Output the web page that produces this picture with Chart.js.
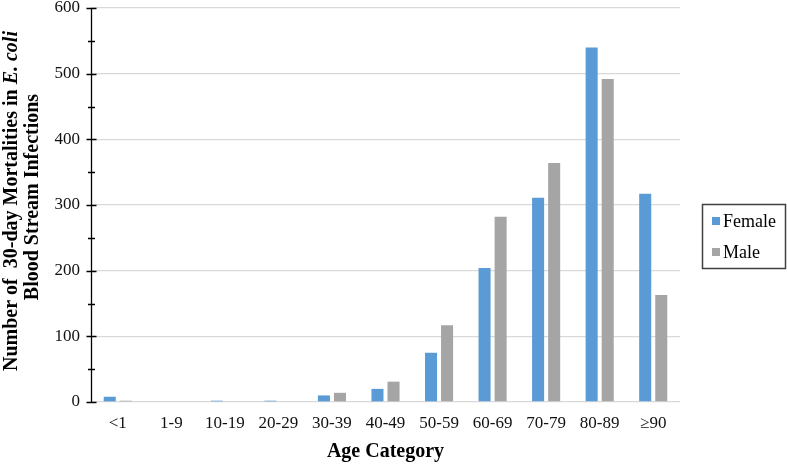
<!DOCTYPE html>
<html>
<head>
<meta charset="utf-8">
<script src="https://cdn.jsdelivr.net/npm/chart.js@4/dist/chart.umd.min.js"></script>
<style>
  html, body { margin: 0; padding: 0; background: #ffffff; }
  #wrap { width: 787px; height: 465px; position: relative; }
</style>
</head>
<body>
<div id="wrap"><canvas id="c" width="787" height="465"></canvas></div>
<script>
const categories = ['<1', '1-9', '10-19', '20-29', '30-39', '40-49', '50-59', '60-69', '70-79', '80-89', '\u226590'];
const femaleValues = [8, 0, 2, 2, 10, 20, 75, 204, 311, 540, 317];
const maleValues = [2, 0, 0, 1, 14, 31, 117, 282, 364, 492, 163];
const seriesNames = ['Female', 'Male'];
const seriesColors = ['#5b9bd5', '#a5a5a5'];
const yTitleLine1 = ['Number of  30-day Mortalities in ', 'E. coli'];
const yTitleLine2 = 'Blood Stream Infections';
const xTitle = 'Age Category';

const SERIF = '"Liberation Serif", "Times New Roman", serif';

const decorPlugin = {
  id: 'decor',
  afterDatasetsDraw(chart) {
    const ctx = chart.ctx;
    const y = chart.scales.y;
    const area = chart.chartArea;
    const ax = Math.round(area.left) + 0.5;
    ctx.save();
    // y axis line and crossing ticks
    ctx.strokeStyle = '#000000';
    ctx.lineWidth = 1.3;
    ctx.beginPath();
    ctx.moveTo(ax, y.getPixelForValue(600));
    ctx.lineTo(ax, y.getPixelForValue(0));
    for (let v = 0; v <= 600; v += 50) {
      const py = Math.round(y.getPixelForValue(v)) + 0.5;
      const half = (v % 100 === 0) ? 5 : 3.5;
      ctx.moveTo(ax - half, py);
      ctx.lineTo(ax + half, py);
    }
    ctx.stroke();

    // y title (rotated, two lines, mixed style)
    ctx.fillStyle = '#000000';
    ctx.textBaseline = 'alphabetic';
    ctx.textAlign = 'left';
    const f1 = 'bold 20px ' + SERIF;
    const f2 = 'italic bold 20px ' + SERIF;
    ctx.font = f1;
    const w1a = ctx.measureText(yTitleLine1[0]).width;
    ctx.font = f2;
    const w1b = ctx.measureText(yTitleLine1[1]).width;
    ctx.save();
    ctx.translate(17, 201);
    ctx.rotate(-Math.PI / 2);
    const start = -(w1a + w1b) / 2;
    ctx.font = f1;
    ctx.fillText(yTitleLine1[0], start, 0);
    ctx.font = f2;
    ctx.fillText(yTitleLine1[1], start + w1a, 0);
    ctx.restore();
    ctx.save();
    ctx.translate(38, 197);
    ctx.rotate(-Math.PI / 2);
    ctx.font = f1;
    ctx.textAlign = 'center';
    ctx.fillText(yTitleLine2, 0, 0);
    ctx.restore();

    // x title
    ctx.font = 'bold 20px ' + SERIF;
    ctx.textAlign = 'center';
    ctx.textBaseline = 'middle';
    ctx.fillText(xTitle, (area.left + area.right) / 2, 452);

    // legend
    ctx.strokeStyle = '#404040';
    ctx.lineWidth = 1.5;
    ctx.strokeRect(702.5, 204.5, 83, 64);
    ctx.font = '18px ' + SERIF;
    ctx.textAlign = 'left';
    ctx.textBaseline = 'middle';
    const rows = [221, 252];
    chart.data.datasets.forEach((ds, i) => {
      ctx.fillStyle = ds.backgroundColor;
      ctx.fillRect(712, rows[i] - 4, 8, 8);
      ctx.fillStyle = '#000000';
      ctx.fillText(ds.label, 723, rows[i] + 1);
    });
    ctx.restore();
  }
};

new Chart(document.getElementById('c'), {
  type: 'bar',
  data: {
    labels: categories,
    datasets: [
      { label: seriesNames[0], data: femaleValues, backgroundColor: seriesColors[0] },
      { label: seriesNames[1], data: maleValues, backgroundColor: seriesColors[1] }
    ]
  },
  options: {
    responsive: false,
    animation: false,
    devicePixelRatio: 1,
    layout: { padding: { left: 0, right: 107, top: 8, bottom: 0 } },
    datasets: { bar: { categoryPercentage: 0.6, barPercentage: 0.75 } },
    plugins: { legend: { display: false }, tooltip: { enabled: false } },
    scales: {
      x: {
        grid: { display: false, drawTicks: false },
        border: { display: false },
        ticks: { color: '#111111', font: { family: SERIF, size: 17 }, padding: 11, maxRotation: 0, autoSkip: false },
        afterFit(s) { s.height = 63; s.paddingLeft = 0; s.paddingRight = 0; }
      },
      y: {
        min: 0, max: 600,
        grid: { color: '#d9d9d9', lineWidth: 1.3, drawTicks: false },
        border: { display: false },
        ticks: { stepSize: 100, color: '#111111', font: { family: SERIF, size: 17 }, padding: 11 },
        afterFit(s) { s.width = 91; s.paddingTop = 0; s.paddingBottom = 0; }
      }
    }
  },
  plugins: [decorPlugin]
});
</script>
</body>
</html>
